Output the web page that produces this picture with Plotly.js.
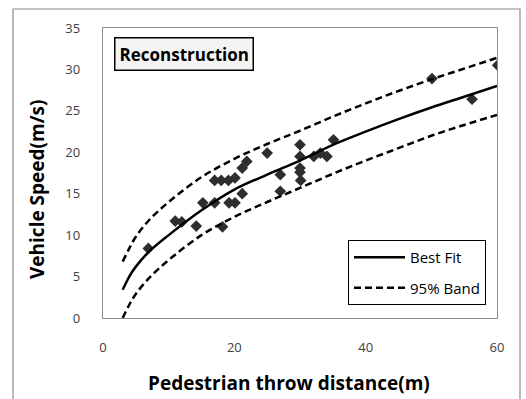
<!DOCTYPE html>
<html>
<head>
<meta charset="utf-8">
<script src="https://cdn.plot.ly/plotly-3.0.1.min.js"></script>
<style>
html,body{margin:0;padding:0;background:#fff;}
#chart{width:526px;height:399px;}
</style>
</head>
<body>
<div id="chart"></div>
<script>
// Measured data points (throw distance m, vehicle speed m/s)
var dataX = [6.9, 11.0, 12.0, 14.2, 15.2, 17.0, 17.0, 18.0, 19.1, 20.1, 19.2, 20.1, 21.2, 18.2, 21.2, 21.9, 25.0, 27.0, 27.0, 30.0, 30.0, 30.0, 30.0, 30.1, 32.1, 33.1, 34.1, 35.1, 50.1, 56.2, 60.1];
var dataY = [8.4, 11.7, 11.6, 11.1, 13.9, 13.9, 16.6, 16.6, 16.6, 16.9, 13.9, 13.9, 15.0, 11.0, 18.1, 18.9, 19.9, 17.3, 15.3, 20.9, 19.5, 18.1, 17.6, 16.6, 19.5, 19.9, 19.5, 21.5, 28.9, 26.4, 30.5];

// Curves
var curveX = [3, 4, 5, 7, 10, 15, 20, 25, 30, 35, 40, 45, 50, 55, 60];
var bestFit = [3.4, 5.0, 6.2, 8.0, 10.0, 13.0, 15.5, 17.3, 19.0, 20.9, 22.5, 24.0, 25.4, 26.7, 28.0];
var upperBand = [6.8, 8.4, 9.8, 11.8, 14.0, 17.0, 19.2, 21.0, 22.6, 24.3, 25.9, 27.4, 28.8, 30.1, 31.4];
var lowerBand = [0.0, 1.6, 2.9, 4.8, 7.0, 10.0, 12.2, 14.0, 15.7, 17.4, 19.0, 20.5, 22.0, 23.3, 24.5];

var xTicks = [0, 20, 40, 60];
var yTicks = [0, 5, 10, 15, 20, 25, 30, 35];

var xTitle = 'Pedestrian throw distance(m)';
var yTitle = 'Vehicle Speed(m/s)';
var boxLabel = 'Reconstruction';

var FONT = '"Open Sans", sans-serif';
var dashStyle = '7px,4px';

var traces = [
  {x: dataX, y: dataY, type: 'scatter', mode: 'markers', showlegend: false,
   marker: {symbol: 'diamond', size: 9, color: '#2e2e2e'}, hoverinfo: 'x+y'},
  {x: curveX, y: bestFit, type: 'scatter', mode: 'lines', name: 'Best Fit',
   legendgroup: 'a', line: {color: '#000', width: 2.5, shape: 'spline'}},
  {x: curveX, y: upperBand, type: 'scatter', mode: 'lines', name: '95% Band',
   legendgroup: 'b', line: {color: '#000', width: 2.5, dash: dashStyle, shape: 'spline'}},
  {x: curveX, y: lowerBand, type: 'scatter', mode: 'lines', name: '95% Band',
   legendgroup: 'b', showlegend: false, line: {color: '#000', width: 2.5, dash: dashStyle, shape: 'spline'}}
];

var L = 103, R = 29, T = 28, B = 81;
var W = 526, H = 399;
var pw = W - L - R, ph = H - T - B;
function px(x){ return (x - L) / pw; }
function py(y){ return (H - B - y) / ph; }

var layout = {
  width: W, height: H,
  margin: {l: L, r: R, t: T, b: B},
  paper_bgcolor: '#fff', plot_bgcolor: '#fff',
  font: {family: FONT, size: 13, color: '#404040'},
  showlegend: true,
  xaxis: {
    range: [0, 60], tickvals: xTicks, ticktext: xTicks.map(String),
    showgrid: false, zeroline: false, showline: true, mirror: true,
    linecolor: '#8c8c8c', linewidth: 1.2,
    ticks: 'outside', ticklen: 17, tickcolor: 'rgba(0,0,0,0)',
    tickfont: {family: FONT, size: 13, color: '#404040'}
  },
  yaxis: {
    range: [0, 35], tickvals: yTicks, ticktext: yTicks.map(String),
    showgrid: false, zeroline: false, showline: true, mirror: true,
    linecolor: '#8c8c8c', linewidth: 1.2,
    ticks: 'outside', ticklen: 19, tickcolor: 'rgba(0,0,0,0)',
    tickfont: {family: FONT, size: 13, color: '#404040'}
  },
  legend: {
    x: px(348), y: py(240), xanchor: 'left', yanchor: 'top',
    bgcolor: '#fff', bordercolor: '#000', borderwidth: 1,
    font: {family: FONT, size: 15, color: '#000'},
    itemwidth: 51, tracegroupgap: 8, traceorder: 'grouped'
  },
  annotations: [{
    xref: 'paper', yref: 'paper', x: px(114), y: py(37),
    xanchor: 'left', yanchor: 'top', showarrow: false,
    text: '<b>' + boxLabel + '</b>', align: 'left',
    font: {family: FONT, size: 17, color: '#000'},
    bgcolor: '#f4f4f4', bordercolor: '#000', borderwidth: 1.5, borderpad: 4
  }, {
    xref: 'paper', yref: 'paper', x: px(289), y: py(383),
    xanchor: 'center', yanchor: 'middle', showarrow: false,
    text: '<b>' + xTitle + '</b>',
    font: {family: FONT, size: 19, color: '#000'}
  }, {
    xref: 'paper', yref: 'paper', x: px(37), y: py(190),
    xanchor: 'center', yanchor: 'middle', showarrow: false, textangle: -90,
    text: '<b>' + yTitle + '</b>',
    font: {family: FONT, size: 19, color: '#000'}
  }],
  shapes: [{
    type: 'rect', xref: 'paper', yref: 'paper',
    x0: px(13), x1: px(520), y0: py(420), y1: py(9),
    line: {color: '#8c8c8c', width: 1.2}, fillcolor: 'rgba(0,0,0,0)', layer: 'below'
  }]
};

Plotly.newPlot('chart', traces, layout, {displayModeBar: false, staticPlot: true});
</script>
</body>
</html>
